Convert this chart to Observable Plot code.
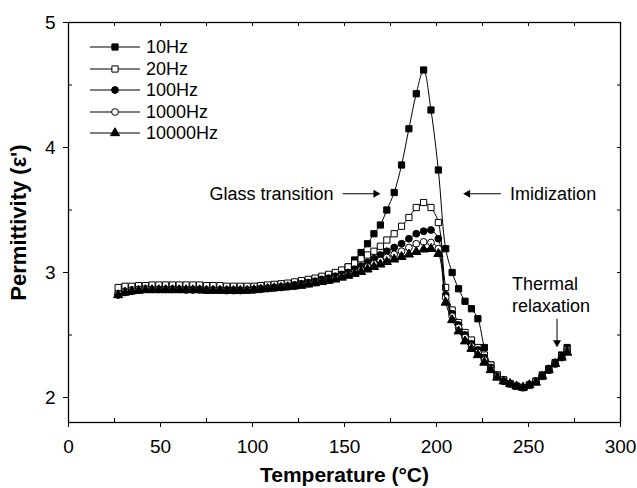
<!DOCTYPE html>
<html>
<head>
<meta charset="utf-8">
<script src="https://cdn.jsdelivr.net/npm/d3@7"></script>
<script src="https://cdn.jsdelivr.net/npm/@observablehq/plot@0.6"></script>
<style>
  html, body { margin: 0; padding: 0; background: #fff; }
  #wrap { position: relative; width: 637px; height: 488px; font-family: "Liberation Sans", Arial, sans-serif; }
  #legend { position: absolute; left: 0; top: 0; pointer-events: none; }
</style>
</head>
<body>
<div id="wrap"></div>
<script>
// ---- Data ----
const temps = [27, 30.7, 34.4, 38.1, 41.8, 45.4, 49.1, 52.8, 56.5, 60.2, 63.9, 67.6, 71.3, 75, 78.6, 82.3, 86, 89.7, 93.4, 97.1,
  100.8, 104.5, 108.2, 111.8, 115.5, 119.2, 122.9, 126.6, 130.3, 134, 137.7, 141.4, 145, 148.5, 152, 155.5, 159, 162.5, 166, 169.5,
  173, 177, 181, 185, 189, 193, 197, 201, 205, 208.5, 212, 215.5, 219, 222.5, 226, 229.5, 233, 236.5, 240, 243.5,
  247, 250.5, 254, 257.5, 261, 264.5, 268, 271];

const eps10Hz = [2.83, 2.85, 2.86, 2.865, 2.87, 2.87, 2.87, 2.87, 2.87, 2.87, 2.87, 2.87, 2.87, 2.865, 2.865, 2.865, 2.865, 2.865, 2.865, 2.87,
  2.87, 2.875, 2.88, 2.885, 2.89, 2.9, 2.91, 2.92, 2.93, 2.945, 2.96, 2.975, 2.99, 3.015, 3.045, 3.1, 3.16, 3.23, 3.31, 3.38,
  3.5, 3.64, 3.86, 4.15, 4.43, 4.62, 4.3, 3.82, 3.19, 3.0, 2.87, 2.77, 2.71, 2.63, 2.4, 2.26, 2.18, 2.14, 2.11, 2.09,
  2.08, 2.1, 2.13, 2.18, 2.23, 2.28, 2.34, 2.4];

const eps20Hz = [2.88, 2.89, 2.89, 2.895, 2.895, 2.9, 2.9, 2.9, 2.9, 2.9, 2.9, 2.9, 2.9, 2.895, 2.895, 2.895, 2.89, 2.89, 2.89, 2.89,
  2.89, 2.895, 2.9, 2.905, 2.91, 2.915, 2.925, 2.935, 2.945, 2.955, 2.97, 2.985, 3.0, 3.02, 3.045, 3.075, 3.11, 3.14, 3.17, 3.21,
  3.26, 3.31, 3.37, 3.44, 3.52, 3.56, 3.52, 3.4, 2.88, 2.7, 2.6, 2.52, 2.46, 2.4, 2.34, 2.26, 2.18, 2.14, 2.11, 2.09,
  2.08, 2.1, 2.13, 2.17, 2.22, 2.27, 2.33, 2.38];

const eps100Hz = [2.82, 2.84, 2.85, 2.86, 2.865, 2.865, 2.865, 2.865, 2.865, 2.865, 2.865, 2.865, 2.865, 2.86, 2.86, 2.86, 2.86, 2.86, 2.86, 2.86,
  2.865, 2.87, 2.875, 2.88, 2.885, 2.89, 2.9, 2.91, 2.92, 2.93, 2.945, 2.955, 2.97, 2.985, 3.0, 3.025, 3.05, 3.08, 3.11, 3.14,
  3.17, 3.2, 3.23, 3.27, 3.31, 3.33, 3.34, 3.27, 2.82, 2.67, 2.58, 2.5, 2.43, 2.38, 2.32, 2.24, 2.17, 2.13, 2.11, 2.09,
  2.08, 2.1, 2.13, 2.17, 2.22, 2.27, 2.32, 2.37];

const eps1000Hz = [2.83, 2.85, 2.86, 2.865, 2.87, 2.865, 2.865, 2.865, 2.865, 2.865, 2.86, 2.86, 2.86, 2.86, 2.86, 2.86, 2.855, 2.855, 2.855, 2.86,
  2.86, 2.865, 2.87, 2.875, 2.88, 2.885, 2.89, 2.9, 2.91, 2.92, 2.93, 2.94, 2.955, 2.97, 2.985, 3.0, 3.02, 3.045, 3.07, 3.095,
  3.12, 3.145, 3.17, 3.2, 3.23, 3.245, 3.24, 3.19, 2.8, 2.65, 2.56, 2.48, 2.41, 2.36, 2.3, 2.23, 2.17, 2.13, 2.11, 2.09,
  2.08, 2.1, 2.13, 2.17, 2.22, 2.27, 2.32, 2.37];

const eps10000Hz = [2.82, 2.84, 2.85, 2.855, 2.86, 2.86, 2.86, 2.86, 2.86, 2.86, 2.86, 2.86, 2.86, 2.855, 2.855, 2.855, 2.855, 2.855, 2.855, 2.855,
  2.86, 2.865, 2.87, 2.875, 2.88, 2.885, 2.89, 2.895, 2.905, 2.915, 2.925, 2.935, 2.945, 2.96, 2.975, 2.99, 3.005, 3.025, 3.045, 3.065,
  3.085, 3.105, 3.125, 3.145, 3.165, 3.185, 3.19, 3.15, 2.76, 2.62, 2.53, 2.45, 2.39, 2.34, 2.28, 2.22, 2.16, 2.13, 2.11, 2.09,
  2.08, 2.1, 2.12, 2.17, 2.22, 2.27, 2.32, 2.36];

const seriesNames = ["10Hz", "20Hz", "100Hz", "1000Hz", "10000Hz"];
const seriesValues = [eps10Hz, eps20Hz, eps100Hz, eps1000Hz, eps10000Hz];
const seriesSymbols = ["square", "square", "circle", "circle", "triangle"];
const seriesFills = ["black", "white", "black", "white", "black"];

const xTicks = [0, 50, 100, 150, 200, 250, 300];
const xMinor = [25, 75, 125, 175, 225, 275];
const yTicks = [2, 3, 4, 5];
const yMinor = [2.5, 3.5, 4.5];

const annotations = [
  {text: "Glass transition", x: 144, y: 3.63, anchor: "end"},
  {text: "Imidization", x: 240, y: 3.63, anchor: "start"},
  {text: "Thermal", x: 241, y: 2.91, anchor: "start"},
  {text: "relaxation", x: 241, y: 2.73, anchor: "start"}
];
const arrows = [
  {x1: 149, y1: 3.63, x2: 167, y2: 3.63, rot: 90},
  {x1: 235, y1: 3.63, x2: 217, y2: 3.63, rot: -90},
  {x1: 265.5, y1: 2.63, x2: 265.5, y2: 2.44, rot: 180}
];

// ---- Build table ----
const rows = [];
seriesNames.forEach((name, s) => {
  seriesValues[s].forEach((v, i) => rows.push({name, T: temps[i], eps: v}));
});

const symbolR = {square: 3.5, circle: 3.4, triangle: 3.4};

const marks = [];
seriesNames.forEach((name, s) => {
  const data = rows.filter(d => d.name === name);
  marks.push(Plot.line(data, {x: "T", y: "eps", stroke: "black", strokeWidth: 1, curve: "catmull-rom"}));
  marks.push(Plot.dot(data, {x: "T", y: "eps", symbol: seriesSymbols[s], r: symbolR[seriesSymbols[s]],
    fill: seriesFills[s], stroke: "black", strokeWidth: 1}));
});

const font = "'Liberation Sans', Arial, sans-serif";

const chart = Plot.plot({
  width: 637,
  height: 488,
  marginLeft: 68,
  marginRight: 17,
  marginTop: 22,
  marginBottom: 66,
  style: {fontFamily: font, fontSize: "18px", background: "white", color: "black"},
  x: {domain: [0, 300]},
  y: {domain: [1.8, 5]},
  marks: [
    Plot.frame({stroke: "black", strokeWidth: 1.3}),
    Plot.axisX({ticks: xTicks, tickSize: 5, tickPadding: 12, label: null, tickFormat: d => d, fontSize: 19}),
    Plot.axisX({ticks: xMinor, tickSize: -4, text: null, label: null}),
    Plot.axisX({anchor: "top", ticks: xTicks.concat(xMinor), tickSize: -3, text: null, label: null}),
    Plot.axisY({ticks: yTicks, tickSize: 5, tickPadding: 8, label: null, tickFormat: d => d, fontSize: 19}),
    Plot.axisY({ticks: yMinor, tickSize: -4, text: null, label: null}),
    Plot.axisY({anchor: "right", ticks: yTicks.concat(yMinor), tickSize: -4, text: null, label: null}),
    ...marks,
    Plot.text(annotations.filter(d => d.anchor === "end"), {x: "x", y: "y", text: "text", textAnchor: "end", fontSize: 18}),
    Plot.text(annotations.filter(d => d.anchor === "start"), {x: "x", y: "y", text: "text", textAnchor: "start", fontSize: 18}),
    Plot.link(arrows, {x1: "x1", y1: "y1", x2: "x2", y2: "y2", stroke: "black", strokeWidth: 1}),
    Plot.dot(arrows, {x: "x2", y: "y2", symbol: "triangle", rotate: "rot", r: 3, fill: "black", stroke: "none"}),
    Plot.text(["Temperature (°C)"], {frameAnchor: "bottom", textAnchor: "middle", lineAnchor: "middle", dy: 53, fontWeight: "bold", fontSize: 21}),
    Plot.text(["Permittivity (ε')"], {frameAnchor: "left", textAnchor: "middle", lineAnchor: "middle", dx: -50, rotate: -90, fontWeight: "bold", fontSize: 22})
  ]
});

const wrap = document.getElementById("wrap");
wrap.appendChild(chart);

// ---- Legend overlay ----
const legendRowsY = [47, 69, 90, 112, 133];
const svg = d3.select(wrap).append("svg").attr("id", "legend").attr("width", 637).attr("height", 488);
seriesNames.forEach((name, s) => {
  const g = svg.append("g").attr("transform", `translate(0,${legendRowsY[s]})`);
  g.append("line").attr("x1", 90).attr("x2", 140).attr("y1", 0).attr("y2", 0).attr("stroke", "black").attr("stroke-width", 1);
  const symType = seriesSymbols[s] === "square" ? d3.symbolSquare : seriesSymbols[s] === "circle" ? d3.symbolCircle : d3.symbolTriangle;
  const r = symbolR[seriesSymbols[s]];
  g.append("path").attr("d", d3.symbol(symType, r * r * Math.PI)()).attr("transform", "translate(115,0)")
    .attr("fill", seriesFills[s]).attr("stroke", "black").attr("stroke-width", 1);
  g.append("text").attr("x", 146).attr("y", 0).attr("dy", "0.35em").attr("font-size", 18)
    .attr("font-family", font).text(name);
});
</script>
</body>
</html>
